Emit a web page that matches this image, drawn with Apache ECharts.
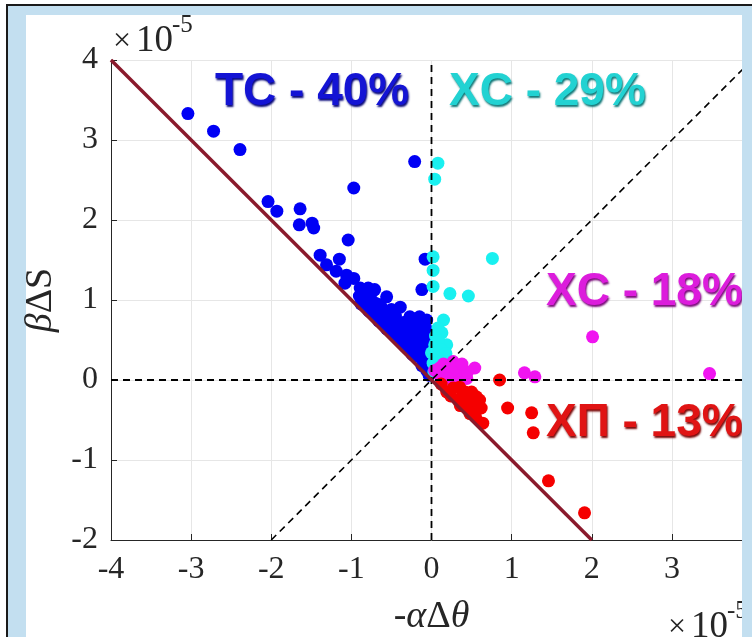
<!DOCTYPE html>
<html>
<head>
<meta charset="utf-8">
<script src="https://cdn.jsdelivr.net/npm/echarts@6/dist/echarts.min.js"></script>
<style>
  html, body { margin: 0; padding: 0; background: #fff; overflow: hidden; }
  #chart { width: 752px; height: 637px; }
</style>
</head>
<body>
<div id="chart"></div>
<script>
// points (units of 1e-5)
const tcPoints = [
  [-3.04, 3.33], [-2.72, 3.11], [-2.39, 2.88], [-2.04, 2.23], [-1.93, 2.11], [-1.64, 2.14],
  [-1.65, 1.94], [-1.49, 1.96], [-1.47, 1.90], [-0.97, 2.40], [-1.04, 1.75], [-0.21, 2.73],
  [-1.39, 1.56], [-1.31, 1.44], [-1.15, 1.51], [-1.19, 1.36], [-1.06, 1.31], [-0.97, 1.27],
  [-1.08, 1.21], [-0.89, 1.15], [-0.79, 1.15], [-0.71, 1.13], [-0.74, 1.10], [-0.56, 1.04],
  [-0.70, 0.96], [-0.81, 1.00], [-0.64, 0.94], [-0.39, 0.91], [-0.61, 0.84], [-0.52, 0.81],
  [-0.48, 0.71], [-0.27, 0.79], [-0.15, 0.79], [-0.06, 0.75], [-0.17, 0.66], [-0.31, 0.65],
  [-0.46, 0.69], [-0.36, 0.62], [-0.27, 0.54], [-0.21, 0.46], [-0.02, 0.56], [-0.15, 0.38],
  [-0.10, 0.25], [-0.06, 0.12], [-0.08, 1.51], [-0.12, 1.13], [-0.88, 0.95], [-0.78, 0.86],
  [-0.66, 0.74], [-0.56, 0.64], [-0.42, 0.52], [-0.33, 0.42], [-0.24, 0.32], [-0.12, 0.18],
  [-0.03, 0.06], [-0.40, 0.62], [-0.30, 0.50], [-0.20, 0.40], [-0.08, 0.35], [-0.05, 0.45],
  [-0.12, 0.55], [-0.25, 0.60], [-0.04, 0.20], [-0.55, 0.75], [-0.68, 0.85],
  [-0.85, 1.02], [-0.75, 0.98], [-0.62, 0.90], [-0.50, 0.88], [-0.45, 0.80], [-0.35, 0.72],
  [-0.22, 0.68], [-0.10, 0.65], [-0.05, 0.62], [-0.60, 0.70], [-0.50, 0.60], [-0.38, 0.50],
  [-0.28, 0.42], [-0.18, 0.30], [-0.10, 0.45], [-0.02, 0.35], [-0.15, 0.50], [-0.30, 0.72],
  [-0.70, 0.80], [-0.90, 1.05]
];
const xc29Points = [
  [0.08, 2.71], [0.04, 2.51], [0.02, 1.54], [0.02, 1.37], [0.76, 1.52], [0.02, 1.17],
  [0.23, 1.08], [0.46, 1.05], [0.15, 0.75], [0.13, 0.59], [0.19, 0.44], [0.04, 0.44],
  [0.10, 0.31], [0.00, 0.34], [0.02, 0.21], [0.10, 0.21], [0.03, 0.10], [0.05, 0.55],
  [0.06, 0.27], [0.08, 0.50], [0.12, 0.38], [0.05, 0.15], [0.15, 0.25], [0.18, 0.33],
  [0.08, 0.65]
];
const xc18Points = [
  [0.27, 0.23], [0.54, 0.15], [0.19, 0.16], [0.39, 0.10], [0.10, 0.06], [0.44, 0.02],
  [0.31, 0.04], [0.04, 0.12], [0.35, 0.12], [0.22, 0.08], [1.16, 0.09], [1.29, 0.04],
  [2.01, 0.54], [3.47, 0.08], [0.15, 0.20], [0.30, 0.15], [0.45, 0.10], [0.20, 0.02],
  [0.38, 0.20], [0.10, 0.15]
];
const xpPoints = [
  [0.85, 0.00], [0.27, -0.10], [0.39, -0.19], [0.56, -0.21], [0.48, -0.27], [0.60, -0.25],
  [0.52, -0.38], [0.64, -0.54], [0.95, -0.35], [1.25, -0.41], [1.27, -0.66], [0.19, -0.15],
  [0.35, -0.09], [0.44, -0.31], [0.12, -0.05], [0.55, -0.46], [1.46, -1.26], [1.91, -1.66],
  [0.24, -0.20], [0.33, -0.25], [0.42, -0.15], [0.36, -0.32], [0.50, -0.15], [0.62, -0.35],
  [0.48, -0.42]
];

// reference lines
const boundaryLine = [[-4, 4], [2, -2]];
const zeroVertical = [[0, -2], [0, 4]];
const zeroHorizontal = [[-4, 0], [4, 0]];
const diagonalLine = [[-2, -2], [4, 4]];

const xRange = [-4, 4];
const yRange = [-2, 4];

const serif = '"Liberation Serif", "DejaVu Serif", serif';
const sans = '"Liberation Sans", Arial, sans-serif';
const ink = '#262626';

const chart = echarts.init(document.getElementById('chart'));

function dots(name, data, color) {
  return {
    name: name, type: 'scatter', data: data, symbol: 'circle', symbolSize: 13,
    itemStyle: {color: color, opacity: 1}, z: 3
  };
}
function guide(data, color, width, dashed) {
  return {
    type: 'line', data: data, showSymbol: false, symbol: 'none', silent: true, z: 5,
    lineStyle: {color: color, width: width, type: dashed ? [7, 5] : 'solid'}
  };
}
function note(text, x, y, color, shadow) {
  return {
    type: 'text', x: x, y: y, z: 50,
    style: {
      text: text, fill: color, font: 'bold 46px ' + sans,
      textShadowColor: shadow, textShadowBlur: 2, textShadowOffsetX: 1, textShadowOffsetY: 2
    }
  };
}
function plain(text, x, y, size) {
  return {
    type: 'text', x: x, y: y, z: 40,
    style: {text: text, fill: ink, font: size + 'px ' + serif, verticalAlign: 'middle'}
  };
}
const nameRich = {
  n: {fontFamily: serif, fontSize: 38, color: ink},
  i: {fontFamily: serif, fontSize: 38, fontStyle: 'italic', color: ink}
};

const option = {
  animation: false,
  backgroundColor: '#fff',
  grid: {left: 111, top: 60, width: 641, height: 480, containLabel: false, outerBoundsMode: 'none'},
  xAxis: {
    type: 'value', min: xRange[0], max: xRange[1], interval: 1,
    name: '{n|-}{i|α}{n|Δ}{i|θ}', nameLocation: 'middle', nameGap: 77,
    nameTextStyle: {verticalAlign: 'middle', rich: nameRich},
    axisLine: {onZero: false, lineStyle: {color: ink, width: 1}},
    axisTick: {inside: true, length: 6, lineStyle: {color: ink}},
    axisLabel: {fontFamily: serif, fontSize: 32, color: ink, margin: 14},
    splitLine: {show: true, lineStyle: {color: '#e6e6e6', width: 1}}
  },
  yAxis: {
    type: 'value', min: yRange[0], max: yRange[1], interval: 1,
    name: '{i|β}{n|ΔS}', nameLocation: 'middle', nameGap: 69,
    nameTextStyle: {verticalAlign: 'middle', rich: nameRich},
    axisLine: {onZero: false, lineStyle: {color: ink, width: 1}},
    axisTick: {inside: true, length: 6, lineStyle: {color: ink}},
    axisLabel: {fontFamily: serif, fontSize: 32, color: ink, margin: 13},
    splitLine: {show: true, lineStyle: {color: '#e6e6e6', width: 1}}
  },
  series: [
    dots('TC', tcPoints, '#0000f5'),
    dots('XC 29', xc29Points, '#19f0f0'),
    dots('XC 18', xc18Points, '#f014f0'),
    dots('XП', xpPoints, '#f50000'),
    guide(zeroVertical, '#000', 1.8, true),
    guide(zeroHorizontal, '#000', 1.8, true),
    guide(diagonalLine, '#000', 1.6, true),
    guide(boundaryLine, '#8a1a2c', 3.5, false)
  ],
  graphic: [
    // frame behind the plot
    {type: 'rect', z: -20, shape: {x: 7, y: 5, width: 760, height: 640},
      style: {fill: '#c3dff0', stroke: '#1a1a1a', lineWidth: 2}},
    {type: 'rect', z: -19, shape: {x: 26, y: 15, width: 716, height: 640},
      style: {fill: '#ffffff'}},
    // exponent labels
    plain('×', 113, 42, 32),
    plain('10', 136, 41, 37),
    plain('-5', 172, 25, 25),
    plain('×', 668, 628, 32),
    plain('10', 691, 627, 37),
    plain('-5', 727, 611, 25),
    // region annotations
    note('TC - 40%', 215, 69, '#1414d4', '#08087a'),
    note('XC - 29%', 449, 69, '#22d2d2', '#117878'),
    note('XC - 18%', 546, 269, '#dc1cdc', '#7a0a7a'),
    note('XП - 13%', 546, 400, '#e01414', '#7a0808'),
    // right strip of the frame, drawn over the clipped plot
    {type: 'rect', z: 100, shape: {x: 742, y: 15, width: 20, height: 640},
      style: {fill: '#c3dff0'}}
  ]
};

chart.setOption(option);
</script>
</body>
</html>
